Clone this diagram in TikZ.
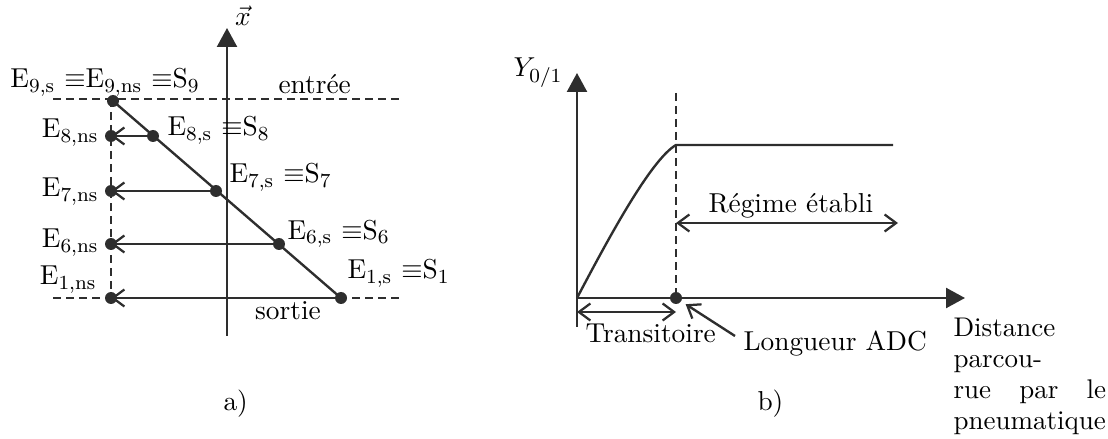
\documentclass[tikz,border=0pt]{standalone}
\usetikzlibrary{arrows.meta}
\begin{document}
\begin{tikzpicture}[x=0.4pt,y=-0.4pt,
  ln/.style={line width=0.95pt,draw=black!82},
  dashln/.style={line width=0.55pt,draw=black!82,dash pattern=on 3.2pt off 2pt},
  axis/.style={ln,-{Triangle[length=7.6pt,width=8pt]}},
  barb/.style={ln,-{Straight Barb[length=4.6pt,width=6.8pt,line width=0.9pt]}},
  barbs/.style={ln,{Straight Barb[length=4.6pt,width=6.8pt,line width=0.9pt]}-{Straight Barb[length=4.6pt,width=6.8pt,line width=0.9pt]}},
  dot/.style={circle,fill=black!82,inner sep=0pt,minimum size=4.8pt},
  lbl/.style={inner sep=0pt,font=\fontsize{10.95}{13.6}\selectfont}]
\useasboundingbox (0,0) rectangle (1108,439);
% ---------- panel a ----------
\coordinate (axb) at (227,336);
\coordinate (axt) at (227,28);
\draw[axis] (axb) -- (axt);
\node[lbl] (xlab) at (243,16) {$\vec{x}$};
\coordinate (in0) at (53,99);  \coordinate (in1) at (400,99);
\coordinate (out0) at (53,298); \coordinate (out1) at (400,298);
\draw[dashln] (in0) -- (in1);
\draw[dashln] (out0) -- (out1);
\coordinate (vt) at (111,99); \coordinate (vb) at (111,298);
\draw[dashln] (vt) -- (vb);
\coordinate (s9) at (113,101);
\coordinate (s8) at (153,136);
\coordinate (s7) at (216,191);
\coordinate (s6) at (279,244);
\coordinate (s1) at (341,298);
\coordinate (n8) at (111,136);
\coordinate (n7) at (111,191);
\coordinate (n6) at (111,244);
\coordinate (n1) at (111,298);
\draw[ln] (s9) -- (s1);
\draw[barb] (s8) -- (n8);
\draw[barb] (s7) -- (n7);
\draw[barb] (s6) -- (n6);
\draw[barb] (s1) -- (n1);
\foreach \p in {s9,s8,s7,s6,s1,n8,n7,n6,n1} \node[dot] (d\p) at (\p) {};
\node[lbl,anchor=base west] (l9) at (10,88) {E$_{9,\mathrm{s}}$ $\equiv$E$_{9,\mathrm{ns}}$ $\equiv$S$_9$};
\node[lbl,anchor=base west] (lin) at (278,94) {entrée};
\node[lbl,anchor=base east] (ln8) at (99,138) {E$_{8,\mathrm{ns}}$};
\node[lbl,anchor=base west] (ls8) at (167,136) {E$_{8,\mathrm{s}}$ $\equiv$S$_8$};
\node[lbl,anchor=base east] (ln7) at (99,197) {E$_{7,\mathrm{ns}}$};
\node[lbl,anchor=base west] (ls7) at (229,183) {E$_{7,\mathrm{s}}$ $\equiv$S$_7$};
\node[lbl,anchor=base east] (ln6) at (99,248) {E$_{6,\mathrm{ns}}$};
\node[lbl,anchor=base west] (ls6) at (287,239) {E$_{6,\mathrm{s}}$ $\equiv$S$_6$};
\node[lbl,anchor=base east] (ln1) at (97,285) {E$_{1,\mathrm{ns}}$};
\node[lbl,anchor=base west] (ls1) at (347,279) {E$_{1,\mathrm{s}}$ $\equiv$S$_1$};
\node[lbl,anchor=base] (lout) at (288,320) {sortie};
\node[lbl,anchor=base west] (la) at (223,410) {a)};
% ---------- panel b ----------
\coordinate (yb) at (577,327);
\coordinate (yt) at (577,73);
\coordinate (o) at (577,298);
\coordinate (xt) at (965,298);
\draw[axis] (yb) -- (yt);
\draw[axis] (o) -- (xt);
\node[lbl,anchor=base west] (ylab) at (513,77) {$Y_{0/1}$};
\coordinate (dt) at (676,93);
\coordinate (adc) at (676,298);
\draw[dashln] (dt) -- (adc);
\coordinate (knee) at (676,145);
\coordinate (pend) at (893,145);
\draw[ln] (o) .. controls (605,245) and (650,160) .. (knee) -- (pend);
\node[dot] (dadc) at (adc) {};
\coordinate (r0) at (676,223); \coordinate (r1) at (898,223);
\draw[barbs] (r0) -- (r1);
\node[lbl,anchor=base west] (lreg) at (708,213) {Régime établi};
\coordinate (t0) at (577,312); \coordinate (t1) at (676,312);
\draw[barbs] (t0) -- (t1);
\node[lbl,anchor=base west] (ltr) at (585,342) {Transitoire};
\coordinate (pt) at (735,336);
\draw[barb,shorten >=2pt] (pt) -- (dadc);
\node[lbl,anchor=base west] (ladc) at (743,350) {Longueur ADC};
\node[lbl,anchor=base west] (lb) at (757,411) {b)};
\node[inner sep=0pt,font=\fontsize{10.8}{12.3}\selectfont,anchor=north west,text width=61pt,align=left] (ldist) at (953,318)
  {Distance\\ parcou-\\ \makebox[61pt]{rue\hfill par\hfill le}\\ pneumatique};
\end{tikzpicture}
\end{document}
